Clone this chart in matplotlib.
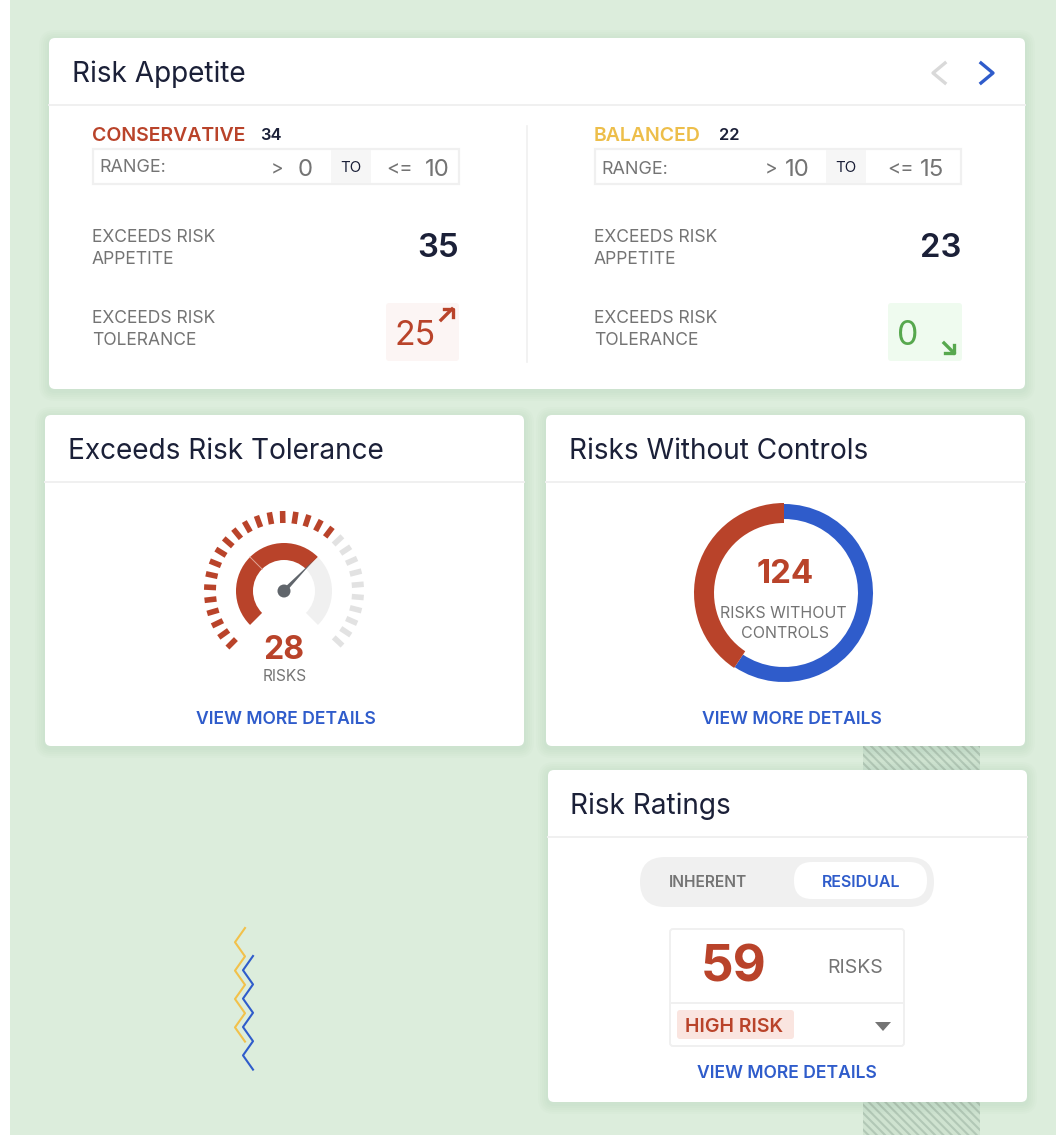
#risk dashboard cards, everything drawn in pixel coordinates of the 1060x1140 screenshot
import matplotlib
matplotlib.use('Agg')
import matplotlib.pyplot as plt
from matplotlib.patches import FancyBboxPatch, Rectangle, Wedge, Circle, Polygon
import numpy as np

plt.rcParams['font.family'] = ['Inter', 'DejaVu Sans']
plt.rcParams['hatch.linewidth'] = 1.5
plt.rcParams['hatch.color'] = '#B2C8B6'

#data
profile_names = ['CONSERVATIVE', 'BALANCED']
profile_counts = [34, 22]
range_low = [0, 10]
range_high = [10, 15]
exceeds_appetite = [35, 23]
exceeds_tolerance = [25, 0]
gauge_value = 28
gauge_ticks = [19, 10]            #red ticks, grey ticks
gauge_sweeps = [90, 90, 90]       #two red arcs, one grey arc
donut_values = [124, 181]         #without controls, the rest
rating_tabs = ['INHERENT', 'RESIDUAL']
rating_value = 59
rating_level = 'HIGH RISK'
card_titles = ['Risk Appetite', 'Exceeds Risk Tolerance', 'Risks Without Controls', 'Risk Ratings']

RED = '#B9432A'
BLUE = '#2F5CCB'
YELLOW = '#EDBE4A'
GREEN = '#57A84E'
NAVY = '#1B2038'
GREY = '#747474'
BG = '#DCEDDC'
LINE = '#F0F0F0'

fig = plt.figure(figsize=(10.6, 11.4), dpi=100, facecolor='white')
ax = fig.add_axes([0, 0, 1, 1])
ax.set_xlim(0, 1060)
ax.set_ylim(1140, 0)
ax.axis('off')


def px(size):
    return size * 0.72


def box(x0, y0, x1, y1, color, rad=4, z=2, **kw):
    p = FancyBboxPatch((x0 + rad, y0 + rad), x1 - x0 - 2 * rad, y1 - y0 - 2 * rad,
                       boxstyle='round,pad=%f,rounding_size=%f' % (rad, rad),
                       fc=color, ec=kw.pop('ec', 'none'), zorder=z, **kw)
    ax.add_patch(p)
    return p


def txt(x, y, s, size, color, ha='center', weight='normal'):
    #inter sits a little high with va=center, push it down
    ax.text(x, y + 0.1 * size, str(s), fontsize=px(size), color=color, ha=ha, va='center',
            fontweight=weight, zorder=6)


def card(x0, y0, x1, y1, line_y, title, title_x):
    #soft shadow
    for grow in [10, 8, 6, 4, 2]:
        box(x0 - grow, y0 - grow + 2, x1 + grow, y1 + grow + 2, '#5E8A6E', rad=6 + grow, z=2, alpha=0.02)
    box(x0, y0, x1, y1, 'white', rad=6, z=3)
    ax.plot([x0, x1], [line_y, line_y], color=LINE, lw=1.4, zorder=4)
    txt(title_x, (y0 + line_y) / 2, title, 28, NAVY, ha='left')


def ring(cx, cy, r, width, a1, a2, color, z=5):
    #angles as seen on screen, y axis is flipped so they get negated
    ax.add_patch(Wedge((cx, cy), r, -a2, -a1, width=width, fc=color, ec='none', zorder=z))


def hatch_strip(x0, y0, x1, y1):
    ax.add_patch(Rectangle((x0, y0), x1 - x0, y1 - y0, fc='#CFE3D0', ec='#B2C8B6', lw=0,
                           hatch='\\\\\\\\', zorder=1))


#background
ax.add_patch(Rectangle((10, 0), 1046, 1135, fc=BG, ec='none', zorder=0))
hatch_strip(863, 746, 980, 771)
hatch_strip(863, 1102, 980, 1135)

#zigzag decoration
for x_left, y_top, color, turns in [(235, 928, '#F2C14A', 9), (243, 956, BLUE, 9)]:
    xs = [x_left + 10 * ((i + 1) % 2) for i in range(turns)]
    ys = [y_top + 14.2 * i for i in range(turns)]
    ax.plot(xs, ys, color=color, lw=1.5, zorder=1)

card(49, 38, 1025, 389, 105, card_titles[0], 72)
card(45, 415, 524, 746, 482, card_titles[1], 68)
card(546, 415, 1025, 746, 482, card_titles[2], 569)
card(548, 770, 1027, 1102, 837, card_titles[3], 570)

#pager arrows
ax.plot([945, 933, 945], [63, 73, 83], color='#D9D9D9', lw=2.4, zorder=6)
ax.plot([981, 993, 981], [63, 73, 83], color=BLUE, lw=2.4, zorder=6)

#risk appetite columns
ax.plot([527, 527], [126, 362], color=LINE, lw=1.2, zorder=4)
col_x = [92, 594]
name_colors = [RED, YELLOW]
count_x = [260, 719]
range_y = [166, 168]
to_x = [331, 826]
gt_x = [277, 771]
low_x = [305, 797]
le_x = [400, 901]
high_x = [437, 932]
for i in range(2):
    x = col_x[i]
    txt(x, 134, profile_names[i], 19.5, name_colors[i], ha='left', weight='semibold')
    txt(count_x[i], 134, profile_counts[i], 16.5, NAVY, ha='left', weight='semibold')
    ax.add_patch(Rectangle((x + 1, 149), 366, 35, fc='white', ec=LINE, lw=1.6, zorder=4))
    ax.add_patch(Rectangle((to_x[i], 150), 40, 33, fc='#F6F6F6', ec='none', zorder=5))
    txt(x + 7, range_y[i], 'RANGE:', 18, GREY, ha='left')
    txt(gt_x[i], 168, '>', 19, GREY)
    txt(low_x[i], 168, range_low[i], 24, GREY)
    txt(to_x[i] + 20, 166, 'TO', 15, NAVY)
    txt(le_x[i], 167, '<=', 20, GREY)
    txt(high_x[i], 168, range_high[i], 24, GREY)
    txt(x, 236, 'EXCEEDS RISK', 17.5, GREY, ha='left')
    txt(x, 258, 'APPETITE', 17.5, GREY, ha='left')
    txt(x, 317, 'EXCEEDS RISK', 17.5, GREY, ha='left')
    txt(x, 339, 'TOLERANCE', 17.5, GREY, ha='left')
    txt(x + 367, 245, exceeds_appetite[i], 33, NAVY, ha='right', weight='semibold')

box(386, 303, 459, 361, '#FCF5F4', rad=3, z=4)
txt(415, 333, exceeds_tolerance[0], 34, RED)
ax.plot([441, 452], [320, 309], color=RED, lw=2.4, zorder=6)
ax.plot([444, 452.5, 452.5], [309, 309, 317], color=RED, lw=2.4, zorder=6)
box(888, 303, 962, 361, '#EFFBEF', rad=3, z=4)
txt(908, 333, exceeds_tolerance[1], 34, GREEN)
ax.plot([944, 954], [343, 353], color=GREEN, lw=2.4, zorder=6)
ax.plot([945, 954, 954], [353, 353, 345], color=GREEN, lw=2.4, zorder=6)

#gauge
gx, gy = 284, 591
n_ticks = sum(gauge_ticks)
tick_angles = np.linspace(225, -43, n_ticks)
for i, a in enumerate(tick_angles):
    c = RED if i < gauge_ticks[0] else '#E2E2E2'
    t = np.radians(a)
    ax.plot([gx + 68 * np.cos(t), gx + 80 * np.cos(t)], [gy - 68 * np.sin(t), gy - 80 * np.sin(t)],
            color=c, lw=4.0, solid_capstyle='butt', zorder=5)
a = 225
for i, sweep in enumerate(gauge_sweeps):
    ring(gx, gy, 48, 17, a - sweep, a, RED if i < 2 else '#F0F0F0')
    a -= sweep
t = np.radians(135)
ax.plot([gx + 31 * np.cos(t), gx + 48 * np.cos(t)], [gy - 31 * np.sin(t), gy - 48 * np.sin(t)],
        color='#E0A090', lw=0.7, zorder=6)
ax.add_patch(Polygon([[gx - 1.5, gy - 1.5], [gx + 1.5, gy + 1.5], [gx + 30, gy - 31]], fc='#60656B', ec='none', zorder=7))
ax.add_patch(Circle((gx, gy), 6.5, fc='#60656B', ec='none', zorder=8))
txt(284, 647, gauge_value, 32, RED, weight='bold')
txt(285, 675, 'RISKS', 15.5, GREY)
txt(286, 718, 'VIEW MORE DETAILS', 17.5, BLUE, weight='semibold')

#donut
dx, dy = 784, 593
red_sweep = 360.0 * donut_values[0] / sum(donut_values)
ring(dx, dy, 89, 15, 90 + red_sweep - 360, 90, BLUE)
ring(dx, dy, 90, 20, 90, 90 + red_sweep, RED, z=6)
txt(785, 571, donut_values[0], 33, RED, weight='bold')
txt(783, 612, 'RISKS WITHOUT', 16, GREY)
txt(785, 632, 'CONTROLS', 16, GREY)
txt(792, 718, 'VIEW MORE DETAILS', 17.5, BLUE, weight='semibold')

#risk ratings
box(640, 857, 934, 907, '#F0F0F0', rad=25, z=4)
box(794, 862, 927, 899, 'white', rad=18, z=5)
txt(708, 881, rating_tabs[0], 15.5, GREY, weight='semibold')
txt(861, 881, rating_tabs[1], 16, BLUE, weight='semibold')
box(670, 929, 904, 1046, 'white', rad=3, z=4, ec=LINE, lw=1.4)
ax.plot([670, 904], [1003, 1003], color=LINE, lw=1.4, zorder=5)
txt(734, 963, rating_value, 51, RED, weight='bold')
txt(855, 966, 'RISKS', 19.5, GREY)
box(677, 1010, 794, 1039, '#FAE5E0', rad=3, z=5)
txt(734, 1025, rating_level, 19.5, RED, weight='semibold')
ax.add_patch(Polygon([[875, 1022], [891, 1022], [883, 1031]], fc=GREY, ec='none', zorder=6))
txt(787, 1072, 'VIEW MORE DETAILS', 17.5, BLUE, weight='semibold')

fig.savefig('out.png', dpi=100, facecolor='white')
